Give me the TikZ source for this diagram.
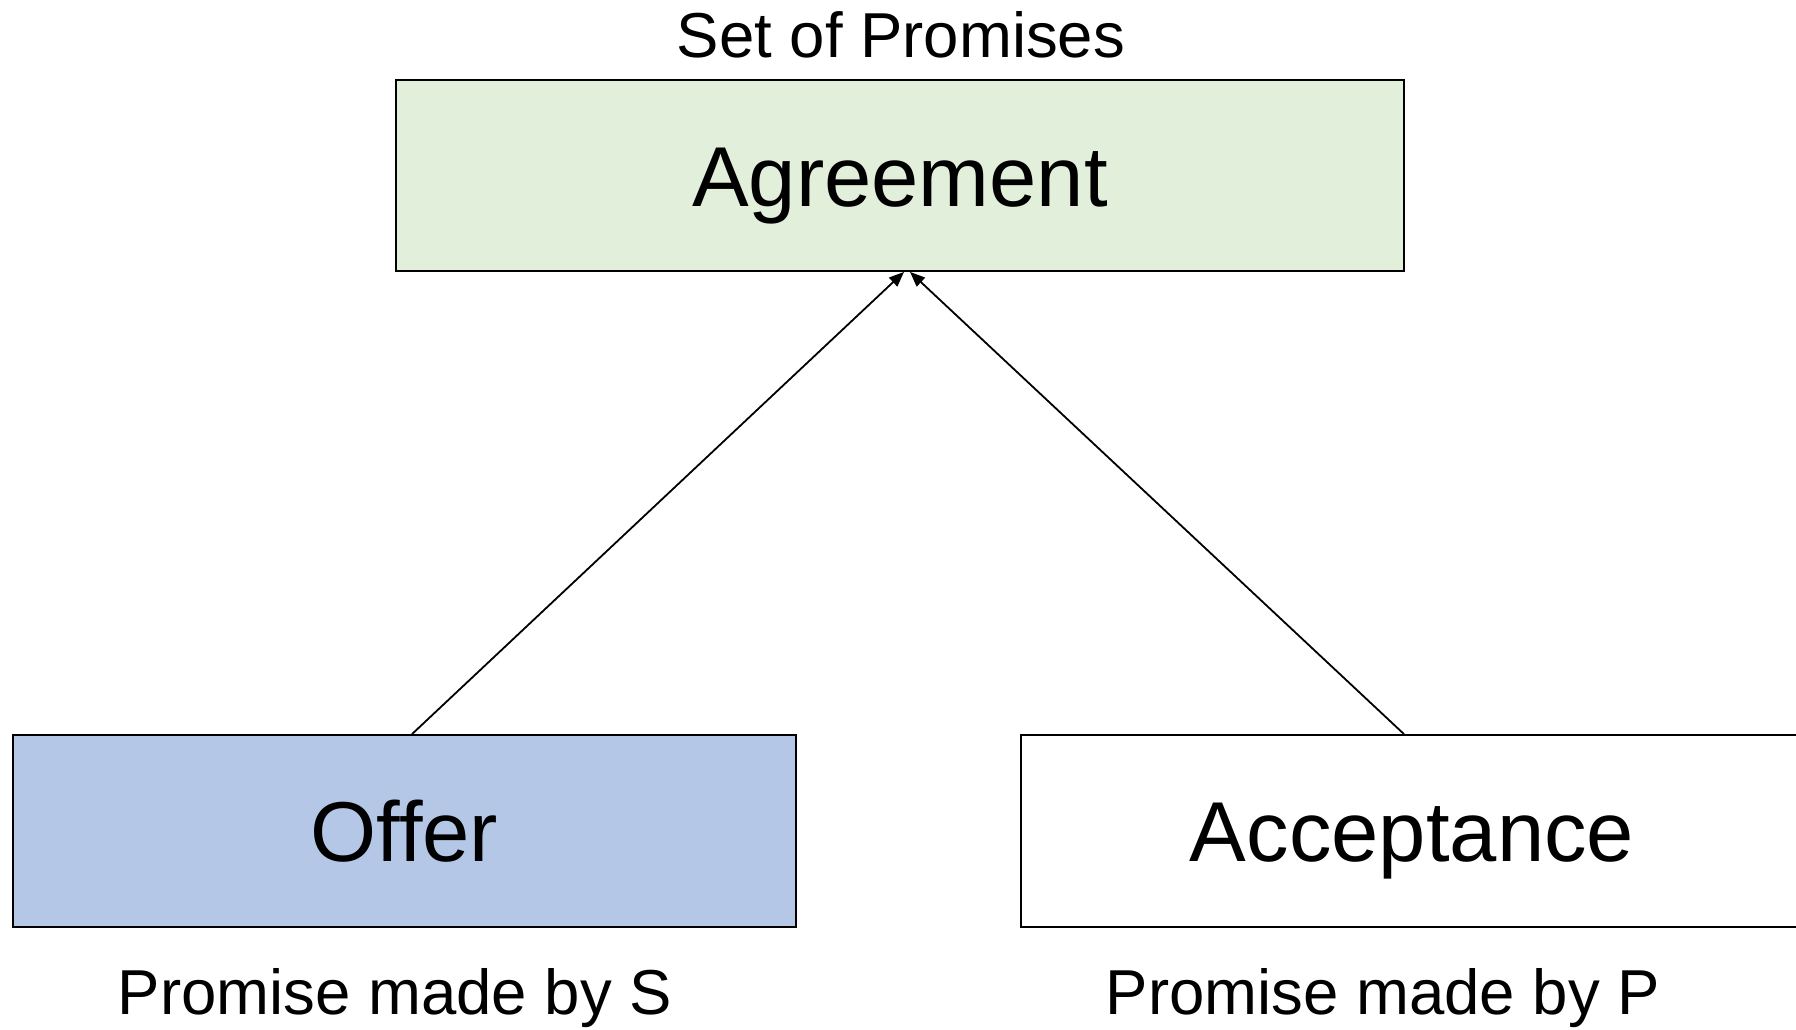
\documentclass[tikz,border=0pt]{standalone}
\usepackage{fontspec}
\setmainfont{Liberation Sans}
\usetikzlibrary{arrows.meta}
\definecolor{agreefill}{HTML}{E2EFDA}
\definecolor{offerfill}{HTML}{B4C7E7}
\begin{document}
\begin{tikzpicture}[x=1pt,y=-1pt,
  box/.style={draw=black, line width=1.8pt, rectangle, inner sep=0pt,
    font=\fontsize{85}{100}\selectfont, text height=61pt, text depth=0pt,
    minimum height=192pt},
  sublabel/.style={font=\fontsize{63.5}{76}\selectfont, anchor=base, inner sep=0pt},
  link/.style={line width=1.8pt, -{Triangle[length=15pt,width=12pt]}}]
\useasboundingbox (0,0) rectangle (1796,1029);
\fill[white] (0,0) rectangle (1796,1029);

% boxes
\node[box, fill=agreefill, minimum width=1008pt, minimum height=191pt] (agr) at (900,175.5) {Agreement};
\node[box, fill=offerfill, minimum width=783pt] (off) at (404.5,831) {Offer};
\node[box, fill=white, minimum width=782pt] (acc) at (1412,831) {Acceptance};

% captions
\node[sublabel] (setp) at (901,57) {Set of Promises};
\node[sublabel] (byS) at (395,1014) {Promise made by S};
\node[sublabel] (byP) at (1383,1014) {Promise made by P};

% connectors
\draw[link] ([xshift=7.5pt]off.north) -- ([xshift=4pt]agr.south);
\draw[link] ([xshift=-8pt]acc.north) -- ([xshift=10pt]agr.south);
\end{tikzpicture}
\end{document}
